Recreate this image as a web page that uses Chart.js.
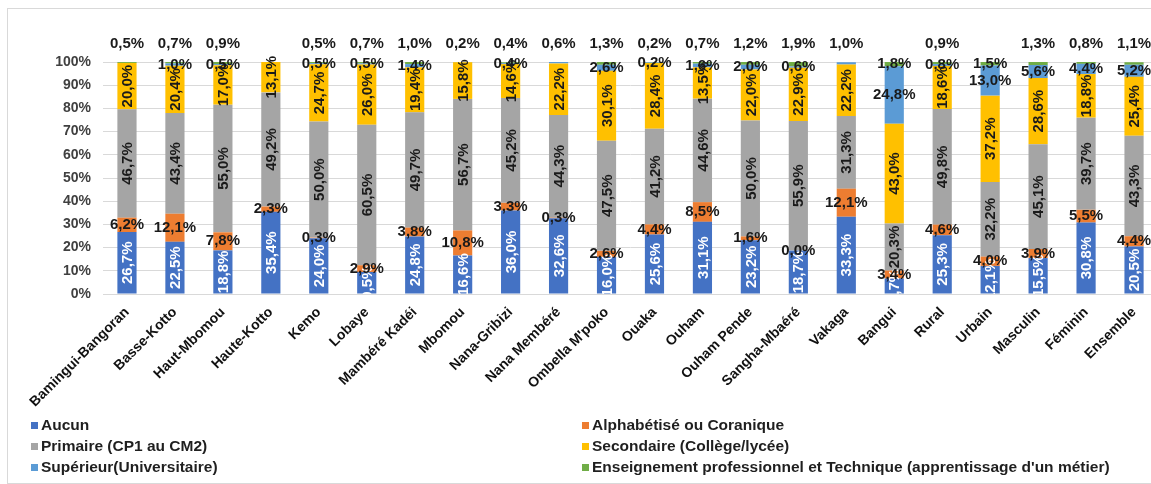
<!DOCTYPE html>
<html lang="fr">
<head>
<meta charset="utf-8">
<title>Niveau d'instruction</title>
<script src="https://cdn.jsdelivr.net/npm/chart.js@4.4.1/dist/chart.umd.min.js"></script>
<style>
    html, body { margin: 0; padding: 0; background: #fff; overflow: hidden; }
    body { width: 1151px; height: 484px; position: relative; }
    #frame { position: absolute; left: 7px; top: 8px; width: 1200px; height: 474px; border: 1px solid #d9d9d9; }
    #chart { position: absolute; left: 0; top: 0; }
    .legend-item { position: absolute; font: bold 15.5px "Liberation Sans", Arial, sans-serif; color: #1f1f1f; white-space: nowrap; line-height: 16px; }
    .legend-item span { display: inline-block; width: 7px; height: 7px; margin-right: 3px; vertical-align: 1px; }
</style>
</head>
<body>
<div id="frame"></div>
<canvas id="chart" width="1158" height="484"></canvas>
<div id="legend"></div>
<script>
const categories = ['Bamingui-Bangoran', 'Basse-Kotto', 'Haut-Mbomou', 'Haute-Kotto', 'Kemo', 'Lobaye',
    'Mambéré Kadéi', 'Mbomou', 'Nana-Gribizi', 'Nana Membéré', "Ombella M'poko", 'Ouaka', 'Ouham',
    'Ouham Pende', 'Sangha-Mbaéré', 'Vakaga', 'Bangui', 'Rural', 'Urbain', 'Masculin', 'Féminin', 'Ensemble'];

const seriesNames = ['Aucun', 'Alphabétisé ou Coranique', 'Primaire (CP1 au CM2)', 'Secondaire (Collège/lycée)',
    'Supérieur(Universitaire)', "Enseignement professionnel et Technique (apprentissage d'un métier)"];

const aucun      = [26.7, 22.5, 18.8, 35.4, 24.0, 9.5, 24.8, 16.6, 36.0, 32.6, 16.0, 25.6, 31.1, 23.2, 18.7, 33.3, 6.7, 25.3, 12.1, 15.5, 30.8, 20.5];
const alphabet   = [6.2, 12.1, 7.8, 2.3, 0.3, 2.9, 3.8, 10.8, 3.3, 0.3, 2.6, 4.4, 8.5, 1.6, 0.0, 12.1, 3.4, 4.6, 4.0, 3.9, 5.5, 4.4];
const primaire   = [46.7, 43.4, 55.0, 49.2, 50.0, 60.5, 49.7, 56.7, 45.2, 44.3, 47.5, 41.2, 44.6, 50.0, 55.9, 31.3, 20.3, 49.8, 32.2, 45.1, 39.7, 43.3];
const secondaire = [20.0, 20.4, 17.0, 13.1, 24.7, 26.0, 19.4, 15.8, 14.6, 22.2, 30.1, 28.4, 13.5, 22.0, 22.9, 22.2, 43.0, 18.6, 37.2, 28.6, 18.8, 25.4];
const superieur  = [null, 1.0, 0.5, null, 0.5, 0.5, 1.4, null, 0.4, 0.6, 2.6, 0.2, 1.6, 2.0, 0.6, 1.0, 24.8, 0.8, 13.0, 5.6, 4.4, 5.2];
const technique  = [0.5, 0.7, 0.9, null, 0.5, 0.7, 1.0, 0.2, 0.4, null, 1.3, 0.2, 0.7, 1.2, 1.9, null, 1.8, 0.9, 1.5, 1.3, 0.8, 1.1];

const yTicks = [0, 10, 20, 30, 40, 50, 60, 70, 80, 90, 100];

const colors = ['#4472C4', '#ED7D31', '#A5A5A5', '#FFC000', '#5B9BD5', '#70AD47'];
const FONT = '"Liberation Sans", Arial, sans-serif';

const seriesData = [aucun, alphabet, primaire, secondaire, superieur, technique];
// rotated labels for the tall segments, white text on the blue base
const datasets = seriesData.map((d, i) => ({
    label: seriesNames[i],
    data: d,
    backgroundColor: colors[i],
    barPercentage: 0.4,
    categoryPercentage: 1.0,
    rotateLabel: [0, 2, 3].includes(i),
    labelColor: i === 0 ? '#ffffff' : '#1a1a1a'
}));

function fmt(v) {
    return v.toFixed(1).replace('.', ',') + '%';
}

const segmentLabels = {
    id: 'segmentLabels',
    afterDatasetsDraw(chart) {
        const { ctx, chartArea } = chart;
        ctx.save();
        ctx.beginPath();
        ctx.rect(0, 0, chart.width, chartArea.bottom);
        ctx.clip();
        ctx.font = 'bold 15px ' + FONT;
        ctx.textAlign = 'center';
        ctx.textBaseline = 'middle';
        chart.data.datasets.forEach((ds, di) => {
            const meta = chart.getDatasetMeta(di);
            meta.data.forEach((bar, i) => {
                const v = ds.data[i];
                if (v === null || v === undefined) return;
                let x = bar.x;
                let y = (bar.y + bar.base) / 2;
                // small top segments get their label above the bar
                if (di === 4 && technique[i] === null) y = chartArea.top - 18;
                if (di === 5 && !(superieur[i] >= 10)) y = chartArea.top - 18;
                ctx.fillStyle = ds.labelColor;
                if (ds.rotateLabel) {
                    ctx.save();
                    ctx.translate(x, y);
                    ctx.rotate(-Math.PI / 2);
                    ctx.fillText(fmt(v), 0, 1);
                    ctx.restore();
                } else {
                    ctx.fillText(fmt(v), x, y);
                }
            });
        });
        ctx.restore();
    }
};

new Chart(document.getElementById('chart'), {
    type: 'bar',
    data: { labels: categories, datasets: datasets },
    options: {
        responsive: false,
        animation: false,
        layout: { padding: { top: 62, left: 0, right: 0, bottom: 0 } },
        plugins: { legend: { display: false }, tooltip: { enabled: false } },
        scales: {
            x: {
                stacked: true,
                grid: { display: false },
                border: { color: '#d9d9d9' },
                ticks: {
                    autoSkip: false, minRotation: 45, maxRotation: 45, padding: 2,
                    color: '#111', font: { family: FONT, size: 14, weight: 'bold' }
                },
                afterFit: s => { s.height = 190; }
            },
            y: {
                stacked: true, min: 0, max: 100,
                afterBuildTicks: s => { s.ticks = yTicks.map(v => ({ value: v })); },
                grid: { color: '#d9d9d9', drawTicks: false },
                border: { display: false },
                ticks: {
                    padding: 12, color: '#404040',
                    font: { family: FONT, size: 14, weight: 'bold' },
                    callback: v => v + '%'
                },
                afterFit: s => { s.width = 103; }
            }
        }
    },
    plugins: [segmentLabels]
});

// two-column legend under the axis labels
const legendEl = document.getElementById('legend');
const legendCols = [31, 582];
const legendRows = [417, 438, 459];
seriesNames.forEach((name, i) => {
    const item = document.createElement('div');
    item.className = 'legend-item';
    item.style.left = legendCols[i % 2] + 'px';
    item.style.top = legendRows[Math.floor(i / 2)] + 'px';
    item.innerHTML = `<span style="background:${colors[i]}"></span>`;
    item.appendChild(document.createTextNode(name));
    legendEl.appendChild(item);
});
</script>
</body>
</html>
